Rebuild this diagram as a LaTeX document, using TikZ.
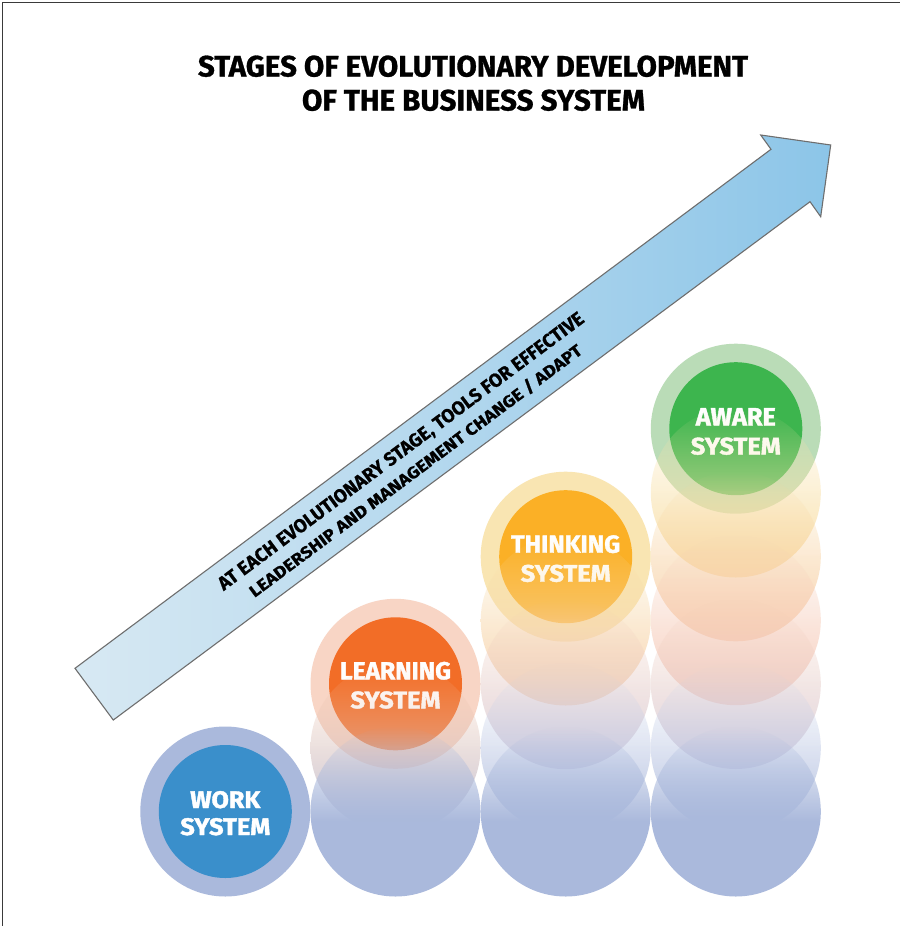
\documentclass[tikz,border=0pt]{standalone}
\usepackage{fontspec}
\setmainfont{Fira Sans}
\newfontfamily\heavyfont{Fira Sans}[FakeBold=1.6]
\newfontfamily\titlefont{Fira Sans}[FakeBold=1.0]
\usetikzlibrary{fadings}
\definecolor{frameC}{HTML}{3A3A3A}
\definecolor{arrowL}{HTML}{D8E9F3}
\definecolor{arrowR}{HTML}{8CC5E8}
\definecolor{arrowLine}{HTML}{6E6E6E}
\definecolor{blueZ}{HTML}{AAB9DC}
\definecolor{workIn}{HTML}{3A8FCB}
\definecolor{learnRing}{HTML}{F8D5C5}
\definecolor{learnIn}{HTML}{F26D27}
\definecolor{thinkRing}{HTML}{F9E5B2}
\definecolor{thinkIn}{HTML}{FBB026}
\definecolor{awareRing}{HTML}{BADCB7}
\definecolor{awareIn}{HTML}{3DB54E}
\definecolor{b1a}{HTML}{F8C3A0}\definecolor{b1b}{HTML}{B9C0DC}
\definecolor{c3a}{HTML}{F9DFA5}\definecolor{c3b}{HTML}{F7D1B3}
\definecolor{c2a}{HTML}{F7CCB4}\definecolor{c2b}{HTML}{D6D0E2}
\definecolor{c1a}{HTML}{CDD6ED}\definecolor{c1b}{HTML}{AFBCDD}
\definecolor{d5a}{HTML}{FAE6AE}\definecolor{d5b}{HTML}{F9DDA6}
\definecolor{d4a}{HTML}{F9DBA0}\definecolor{d4b}{HTML}{F8CFB0}
\definecolor{d3a}{HTML}{F8CFB8}\definecolor{d3b}{HTML}{F6CDC0}
% the circle covers the middle half (-25bp..25bp) of a symmetric 100bp fading picture
\begin{tikzfadingfrompicture}[name=cfadeP]
  \path (-50bp,-50bp) rectangle (50bp,50bp);
  \shade[top color=transparent!100, bottom color=transparent!50] (-50bp,-0.5bp) rectangle (50bp,25bp);
  \shade[top color=transparent!50, bottom color=transparent!0] (-50bp,-25bp) rectangle (50bp,0.3bp);
  \fill[transparent!0] (-50bp,-50bp) rectangle (50bp,-24.5bp);
\end{tikzfadingfrompicture}
\begin{tikzfadingfrompicture}[name=bfadeP]
  \path (-50bp,-50bp) rectangle (50bp,50bp);
  \fill[transparent!0] (-50bp,-50bp) rectangle (50bp,-2bp);
  \shade[top color=transparent!100, bottom color=transparent!0] (-50bp,-3bp) rectangle (50bp,25bp);
\end{tikzfadingfrompicture}
\newcommand\fadedcirc[4]{\shade[top color=#3, bottom color=#4, path fading=cfadeP] (#1,#2) circle[radius=85pt];}
\newcommand\ringcirc[4]{\fill[#3] (#1,#2) circle[radius=85pt]; \fill[#4] (#1,#2) circle[radius=66.5pt];}
\newcommand\basecirc[2]{\fill[blueZ, path fading=bfadeP] (#1,#2) circle[radius=85pt];}
\begin{document}
\begin{tikzpicture}[x=1pt, y=-1pt,
  lbl/.style={anchor=base, text=white, font=\heavyfont\bfseries, inner sep=0pt},
  ttl/.style={anchor=base, text=black, font=\titlefont\bfseries, inner sep=0pt},
  arrtxt/.style={anchor=base, text=black, font=\titlefont\bfseries, inner sep=0pt, rotate=36.7}]
\useasboundingbox (0,0) rectangle (900,926);
\fill[white] (0,0) rectangle (900,926);
% frame (top and left)
\draw[frameC, line width=1.5pt] (2.5,926) -- (2.5,2.5) -- (900,2.5);
% title
\node[ttl] (title1) at (473,76.5) {\resizebox{550pt}{21pt}{STAGES OF EVOLUTIONARY DEVELOPMENT}};
\node[ttl] (title2) at (473.5,110.5) {\resizebox{343pt}{21pt}{OF THE BUSINESS SYSTEM}};
% arrow
\shadedraw[left color=arrowL, right color=arrowR, draw=arrowLine, line width=1.1pt, line join=miter]
  (75,668.3) -- (771,149.3) -- (760.7,135) -- (830.7,145) -- (820.7,216.7) -- (810,201.7) -- (113.3,720) -- cycle;
\node[arrtxt] (atext1) at (404.6,456.2) {\resizebox{451pt}{13.5pt}{AT EACH EVOLUTIONARY STAGE, TOOLS FOR EFFECTIVE}};
\node[arrtxt] (atext2) at (419.0,475.4) {\resizebox{410pt}{13.5pt}{LEADERSHIP AND MANAGEMENT CHANGE / ADAPT}};
% column 1: work
\ringcirc{225.3}{811.5}{blueZ}{workIn}
\node[lbl] (work1) at (225.3,808) {\resizebox{70pt}{17pt}{WORK}};
\node[lbl] (work2) at (225.3,835) {\resizebox{90pt}{17pt}{SYSTEM}};
% column 2: learning
\ringcirc{395.5}{683.8}{learnRing}{learnIn}
\node[lbl] (learn1) at (395.5,679.3) {\resizebox{111pt}{17.5pt}{LEARNING}};
\node[lbl] (learn2) at (395.5,708.3) {\resizebox{90pt}{17pt}{SYSTEM}};
\fadedcirc{395.5}{747.7}{b1a}{b1b}
\basecirc{395.5}{811.5}
% column 3: thinking
\ringcirc{565.7}{556.7}{thinkRing}{thinkIn}
\node[lbl] (think1) at (565.7,552.7) {\resizebox{109pt}{17.5pt}{THINKING}};
\node[lbl] (think2) at (565.7,581.7) {\resizebox{90pt}{17pt}{SYSTEM}};
\fadedcirc{565.7}{620.5}{c3a}{c3b}
\fadedcirc{565.7}{684.2}{c2a}{c2b}
\fadedcirc{565.7}{747.8}{c1a}{c1b}
\basecirc{565.7}{811.5}
% column 4: aware
\ringcirc{735.8}{428.7}{awareRing}{awareIn}
\node[lbl] (aware1) at (735.8,425.5) {\resizebox{80pt}{17.5pt}{AWARE}};
\node[lbl] (aware2) at (735.8,454.5) {\resizebox{90pt}{17pt}{SYSTEM}};
\fadedcirc{735.8}{492.5}{d5a}{d5b}
\fadedcirc{735.8}{556.3}{d4a}{d4b}
\fadedcirc{735.8}{620.2}{d3a}{d3b}
\fadedcirc{735.8}{684.0}{c2a}{c2b}
\fadedcirc{735.8}{747.8}{c1a}{c1b}
\basecirc{735.8}{811.5}
\end{tikzpicture}
\end{document}
